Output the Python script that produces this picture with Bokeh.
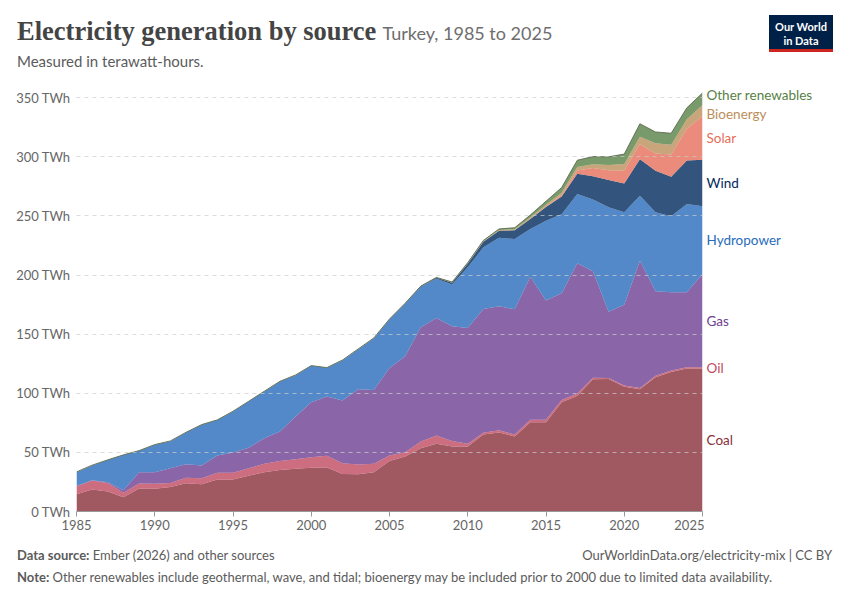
from bokeh.plotting import figure
from bokeh.layouts import column, row
from bokeh.models import (ColumnDataSource, Range1d, FixedTicker,
                          PrintfTickFormatter, Div)
from bokeh.core.properties import value
from bokeh.embed import file_html
from bokeh.resources import INLINE

# Turkey, electricity generation by source (TWh)
years = list(range(1985, 2026))

coal = [14.6, 18.6, 17.0, 12.1, 19.4, 19.3, 20.8, 23.9, 23.0, 27.0,
        27.0, 30.3, 33.2, 35.2, 36.1, 36.9, 37.2, 31.7, 31.5, 33.2,
        42.8, 46.5, 53.4, 57.2, 54.9, 54.9, 65.1, 66.9, 63.4, 75.5,
        75.5, 92.4, 98.0, 111.8, 112.1, 105.6, 103.4, 113.5, 118.0, 121.0,
        121.0]
oil = [6.8, 7.6, 7.0, 3.7, 4.2, 4.1, 3.2, 4.6, 5.2, 5.7,
       5.7, 6.2, 7.2, 7.6, 8.1, 9.0, 9.9, 9.1, 8.2, 7.1,
       4.5, 3.6, 5.9, 7.0, 4.8, 2.3, 1.6, 1.8, 1.7, 2.0,
       2.2, 2.0, 1.7, 1.4, 0.9, 0.9, 1.1, 1.4, 1.2, 1.0,
       1.0]
gas = [0.1, 0.2, 0.8, 2.2, 9.5, 9.7, 12.6, 11.5, 10.7, 14.6,
       17.1, 17.5, 21.6, 24.8, 36.1, 46.5, 50.1, 53.0, 63.7, 62.5,
       74.1, 81.2, 96.5, 99.5, 96.9, 98.0, 104.6, 104.8, 105.9, 121.1,
       100.8, 90.1, 110.2, 89.9, 56.0, 68.4, 107.6, 71.3, 66.2, 63.4,
       78.8]
hydro = [11.8, 12.6, 18.7, 29.7, 18.2, 23.3, 22.9, 26.8, 34.4, 30.0,
         34.8, 39.0, 39.5, 42.3, 35.0, 30.8, 24.3, 34.2, 33.9, 43.8,
         41.2, 44.5, 34.4, 33.2, 35.4, 51.4, 52.1, 58.0, 59.4, 40.4,
         67.5, 67.0, 58.6, 60.7, 88.4, 78.1, 54.9, 66.8, 64.3, 74.6,
         57.4]
wind = [0.0, 0.0, 0.0, 0.0, 0.0, 0.0, 0.0, 0.0, 0.0, 0.0,
        0.0, 0.0, 0.0, 0.0, 0.0, 0.0, 0.0, 0.0, 0.0, 0.0,
        0.0, 0.1, 0.3, 0.8, 1.5, 2.9, 4.7, 5.9, 7.4, 8.4,
        11.6, 15.0, 17.2, 19.8, 22.9, 24.5, 31.0, 35.2, 33.4, 36.9,
        39.3]
solar = [0.0, 0.0, 0.0, 0.0, 0.0, 0.0, 0.0, 0.0, 0.0, 0.0,
         0.0, 0.0, 0.0, 0.0, 0.0, 0.0, 0.0, 0.0, 0.0, 0.0,
         0.0, 0.0, 0.0, 0.0, 0.0, 0.0, 0.0, 0.0, 0.0, 0.1,
         0.2, 1.0, 2.8, 7.0, 8.4, 11.0, 12.7, 14.6, 18.9, 26.9,
         37.1]
bioenergy = [0.1, 0.1, 0.1, 0.1, 0.1, 0.1, 0.1, 0.1, 0.1, 0.1,
             0.1, 0.1, 0.1, 0.1, 0.1, 0.1, 0.1, 0.1, 0.1, 0.1,
             0.1, 0.1, 0.1, 0.1, 0.2, 0.3, 0.5, 0.7, 1.0, 1.3,
             1.6, 2.2, 2.8, 3.2, 4.3, 5.5, 6.2, 8.7, 8.2, 8.0,
             9.3]
other_renewables = [0.1, 0.1, 0.1, 0.1, 0.1, 0.1, 0.1, 0.1, 0.1, 0.1,
                    0.1, 0.1, 0.1, 0.1, 0.1, 0.1, 0.1, 0.1, 0.1, 0.1,
                    0.1, 0.1, 0.1, 0.2, 0.4, 0.7, 0.7, 0.9, 1.2, 2.0,
                    3.0, 4.3, 5.8, 6.4, 7.0, 8.3, 11.0, 9.5, 9.7, 9.6,
                    10.1]

names = ["Coal", "Oil", "Gas", "Hydropower", "Wind", "Solar", "Bioenergy",
         "Other renewables"]
series = [coal, oil, gas, hydro, wind, solar, bioenergy, other_renewables]
colors = ["#883039", "#C04A60", "#6D3E91", "#286BBB", "#00295B", "#E56E5A",
          "#BC8E5A", "#578145"]
y_ticks = [0, 50, 100, 150, 200, 250, 300, 350]
x_ticks = [1985, 1990, 1995, 2000, 2005, 2010, 2015, 2020, 2025]

keys = ["s%d" % i for i in range(len(series))]
data = {"year": years}
for k, s in zip(keys, series):
    data[k] = s
source = ColumnDataSource(data)
totals = [sum(v) for v in zip(*series)]

y_range = Range1d(0, 362)

# main chart: frame spans 1985-2025 horizontally
p = figure(width=704, height=460, output_backend="svg", toolbar_location=None,
           x_range=Range1d(1985, 2025), y_range=y_range,
           min_border_left=76, min_border_right=2,
           min_border_top=3, min_border_bottom=29)
p.outline_line_color = None
p.xgrid.visible = False

p.varea_stack(stackers=keys, x="year", color=colors, fill_alpha=0.8,
              source=source)
p.line(years, totals, line_color="#5f6b52", line_width=1, line_alpha=0.9)

p.ygrid.ticker = FixedTicker(ticks=y_ticks[1:])
p.ygrid.grid_line_color = "#cccccc"
p.ygrid.grid_line_alpha = 0.7
p.ygrid.grid_line_dash = "4 4"
p.ygrid.level = "annotation"

p.yaxis.ticker = FixedTicker(ticks=y_ticks)
p.yaxis.formatter = PrintfTickFormatter(format="%d TWh")
p.yaxis.axis_line_color = None
p.yaxis.major_tick_line_color = None
p.yaxis.minor_tick_line_color = None
p.yaxis.major_tick_out = 0
p.yaxis.major_label_standoff = 6
p.yaxis.major_label_text_font = "Lato"
p.yaxis.major_label_text_font_size = "13px"
p.yaxis.major_label_text_color = "#666666"

p.xaxis.ticker = FixedTicker(ticks=x_ticks)
p.xaxis.axis_line_color = "#999999"
p.xaxis.major_tick_line_color = "#999999"
p.xaxis.minor_tick_line_color = None
p.xaxis.major_tick_in = 0
p.xaxis.major_tick_out = 5
p.xaxis.major_label_standoff = 3
p.xaxis.major_label_text_font = "Lato"
p.xaxis.major_label_text_font_size = "13px"
p.xaxis.major_label_text_color = "#666666"

# series labels: a narrow panel to the right sharing the vertical scale,
# each label centred on its band in 2025 and nudged apart where they collide
pos = []
base = 0
for s in series:
    pos.append(base + s[-1] / 2)
    base += s[-1]
for _ in range(100):
    for i in range(1, len(pos)):
        d = pos[i] - pos[i - 1]
        if d < 16:
            pos[i] += (16 - d) / 2
            pos[i - 1] -= (16 - d) / 2

lab = figure(width=146, height=460, output_backend="svg",
             toolbar_location=None, x_range=Range1d(0, 146), y_range=y_range,
             x_axis_type=None, y_axis_type=None,
             min_border_left=0, min_border_right=0,
             min_border_top=3, min_border_bottom=29)
lab.outline_line_color = None
lab.grid.visible = False
lab.text(x=[2] * len(names), y=pos, text=names, text_color=colors,
         text_font=value("Lato"), text_font_size="13.5px",
         text_baseline="middle")

header = Div(width=850, height=80, margin=0, text="""
<div style="position:relative;width:850px;height:80px;font-family:Lato;">
 <div style="position:absolute;left:17px;top:14px;white-space:nowrap;
             line-height:34px;">
  <span style="font-family:'Liberation Serif';font-weight:bold;
               font-size:26.5px;color:#444444;">Electricity generation by source</span>
  <span style="font-size:18px;color:#6e6e6e;margin-left:3px;">Turkey, 1985 to 2025</span>
 </div>
 <div style="position:absolute;left:17px;top:52px;font-size:15px;
             line-height:18px;color:#5b5b5b;white-space:nowrap;">Measured in terawatt-hours.</div>
 <div style="position:absolute;left:769px;top:15px;width:64px;height:37px;
             box-sizing:border-box;padding-top:5px;background:#002147;
             border-bottom:3px solid #ce261e;color:#ffffff;font-weight:bold;
             font-size:11px;line-height:14px;text-align:center;">Our World<br>in Data</div>
</div>
""")

footer = Div(width=850, height=60, margin=0, text="""
<div style="position:relative;width:850px;height:60px;font-family:Lato;
            font-size:13px;line-height:18px;color:#5b5b5b;">
 <div style="position:absolute;left:17px;top:6px;white-space:nowrap;">
  <b>Data source:</b> Ember (2026) and other sources</div>
 <div style="position:absolute;right:18px;top:6px;white-space:nowrap;">
  OurWorldinData.org/electricity-mix | CC BY</div>
 <div style="position:absolute;left:17px;top:28px;white-space:nowrap;">
  <b>Note:</b> Other renewables include geothermal, wave, and tidal; bioenergy may be included prior to 2000 due to limited data availability.</div>
</div>
""")

page = column(header, row(p, lab, spacing=0), footer, spacing=0)

open("out.html", "w").write(file_html(page, INLINE))
